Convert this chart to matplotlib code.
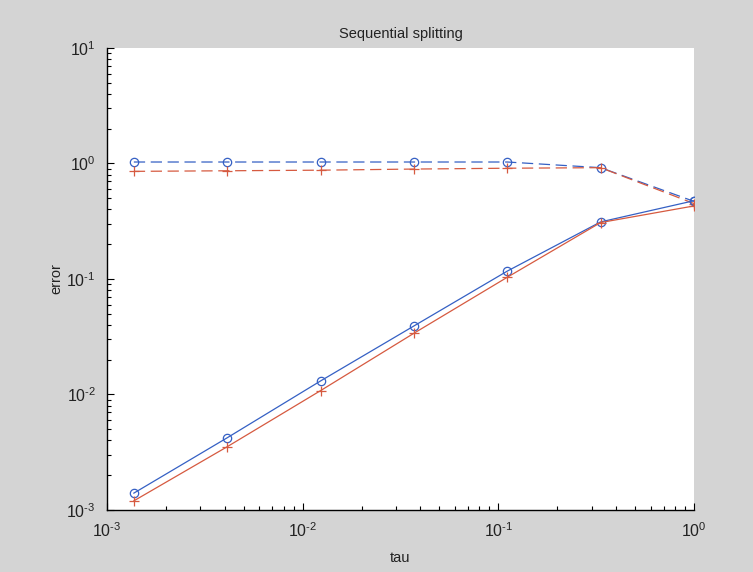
import math
import matplotlib
matplotlib.use("Agg")
import matplotlib.pyplot as plt
from matplotlib.ticker import LogLocator, FuncFormatter, NullFormatter

tau = [1/729, 1/243, 1/81, 1/27, 1/9, 1/3, 1.0]

blue_solid = [1.40e-3, 4.22e-3, 1.31e-2, 3.92e-2, 0.117, 0.312, 0.476]
red_solid = [1.20e-3, 3.53e-3, 1.08e-2, 3.39e-2, 0.1035, 0.308, 0.429]
blue_dashed = [1.03, 1.03, 1.03, 1.03, 1.03, 0.92, 0.47]
red_dashed = [0.855, 0.865, 0.875, 0.895, 0.91, 0.92, 0.45]

title = "Sequential splitting"
xlabel = "tau"
ylabel = "error"

plt.rcParams['font.family'] = ['Liberation Sans', 'DejaVu Sans']
plt.rcParams['mathtext.fontset'] = 'custom'
plt.rcParams['mathtext.rm'] = 'Liberation Sans'

BG = '#d4d4d4'
BLUE = '#3560c4'
RED = '#d65a40'


def exp_label(v, p):
    e = round(math.log10(v))
    s = str(abs(e))
    if e < 0:
        return r'$\mathregular{10^{\text{-}%s}}$' % s
    return r'$\mathregular{10^{%s}}$' % s


fig = plt.figure(figsize=(7.53, 5.72), dpi=100, facecolor=BG)
ax = fig.add_axes([0.1421, 0.1084, 0.9216 - 0.1421, 0.9161 - 0.1084])
ax.set_facecolor('white')

ax.plot(tau, blue_dashed, '--', color=BLUE, lw=0.9, marker='o', ms=6,
        mfc='none', mec=BLUE, mew=0.9, dashes=(9, 4.5))
ax.plot(tau, red_dashed, '--', color=RED, lw=0.9, marker='+', ms=7,
        mec=RED, mew=0.9, dashes=(9, 4.5))
ax.plot(tau, blue_solid, '-', color=BLUE, lw=0.9, marker='o', ms=6,
        mfc='none', mec=BLUE, mew=0.9)
ax.plot(tau, red_solid, '-', color=RED, lw=0.9, marker='+', ms=7,
        mec=RED, mew=0.9)

ax.set_xscale('log')
ax.set_yscale('log')
ax.set_xlim(1e-3, 1e0)
ax.set_ylim(1e-3, 1e1)

fmt = FuncFormatter(exp_label)
ax.xaxis.set_major_locator(LogLocator(base=10, numticks=10))
ax.yaxis.set_major_locator(LogLocator(base=10, numticks=10))
ax.xaxis.set_minor_locator(LogLocator(base=10, subs=range(2, 10), numticks=20))
ax.yaxis.set_minor_locator(LogLocator(base=10, subs=range(2, 10), numticks=20))
ax.xaxis.set_major_formatter(fmt)
ax.yaxis.set_major_formatter(fmt)
ax.xaxis.set_minor_formatter(NullFormatter())
ax.yaxis.set_minor_formatter(NullFormatter())

for s in ['top', 'right']:
    ax.spines[s].set_visible(False)
for s in ['left', 'bottom']:
    ax.spines[s].set_linewidth(1.0)
    ax.spines[s].set_color('black')

ax.tick_params(which='major', direction='in', length=5, width=0.8, labelsize=11.5,
               top=False, right=False, pad=8, colors='black', labelcolor='#222222')
ax.tick_params(which='minor', direction='in', length=3, width=0.8, top=False, right=False)

ax.set_title(title, fontsize=10.5, pad=7, color='#222222')
ax.set_xlabel(xlabel, fontsize=10.5, labelpad=8, color='#222222')
ax.set_ylabel(ylabel, fontsize=10.5, labelpad=2, color='#222222')

fig.savefig('out.png', dpi=100, facecolor=BG)
